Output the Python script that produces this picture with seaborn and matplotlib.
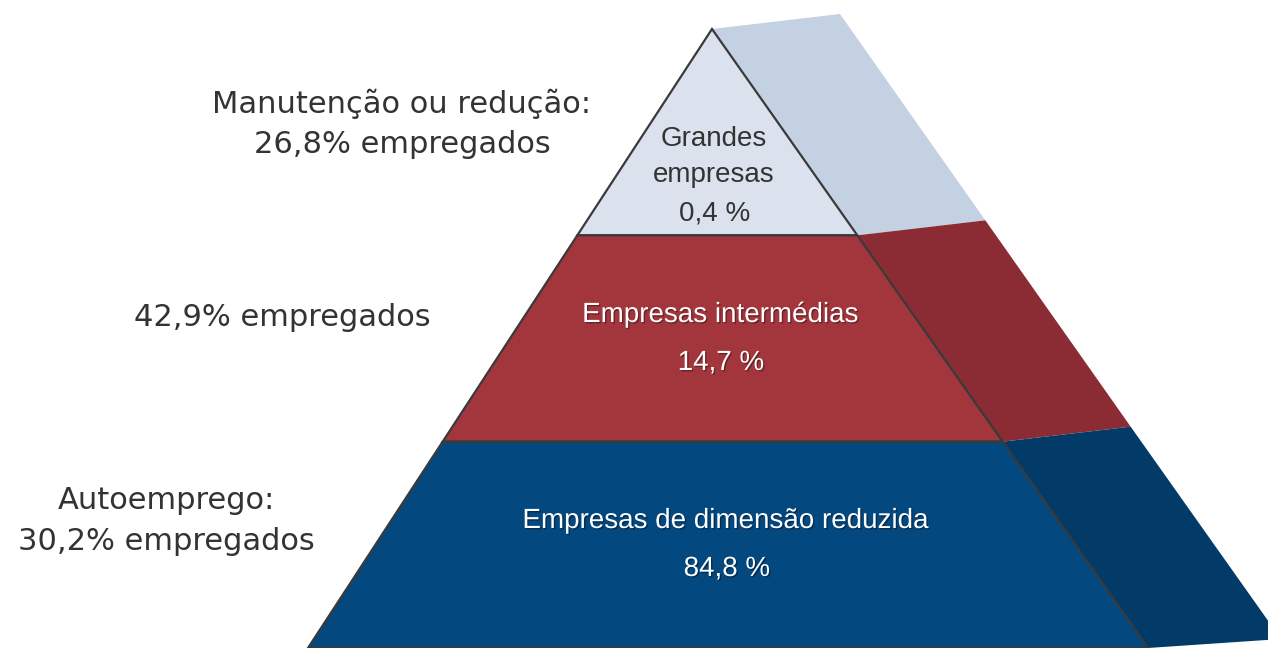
import matplotlib
matplotlib.use("Agg")
import matplotlib.pyplot as plt
import matplotlib.patheffects as pe
import seaborn as sns
import numpy as np

# pyramid levels, top to bottom
level_names = ["Grandes\nempresas", "Empresas intermédias", "Empresas de dimensão reduzida"]
firm_share = [0.4, 14.7, 84.8]
employment_labels = ["Manutenção ou redução:", "", "Autoemprego:"]
employment_share = [26.8, 42.9, 30.2]

front_colors = ["#dbe2ee", "#a2363c", "#03487f"]
side_colors = ["#c4d1e3", "#8b2b34", "#033b68"]
text_colors = ["#333333", "white", "white"]


def pt(v):
    return f"{v:.1f}".replace(".", ",")


sns.set_theme(style="white")
plt.rcParams["font.family"] = ["DejaVu Sans"]

fig = plt.figure(figsize=(12.68, 6.48), dpi=100)
ax = fig.add_axes([0, 0, 1, 1])
ax.set_xlim(0, 1268)
ax.set_ylim(648, 0)
ax.axis("off")

# pyramid layout (pixel-like coords, y down)
apex = np.array([712.0, 29.0])
base_l = np.array([308.0, 648.0])
base_r = np.array([1148.0, 648.0])
depth = np.array([128.0, -15.0])
n = len(level_names)


def edge(p0, p1, t):
    return p0 + (p1 - p0) * t


for i in range(n):
    t0, t1 = i / n, (i + 1) / n
    r0, r1 = edge(apex, base_r, t0), edge(apex, base_r, t1)
    d1 = depth if i < n - 1 else np.array([133.0, -9.0])
    # side face
    side = np.array([r0, r0 + depth, r1 + d1, r1])
    ax.fill(side[:, 0], side[:, 1], color=side_colors[i], lw=0, zorder=1)

for i in range(n):
    t0, t1 = i / n, (i + 1) / n
    l0, l1 = edge(apex, base_l, t0), edge(apex, base_l, t1)
    r0, r1 = edge(apex, base_r, t0), edge(apex, base_r, t1)
    front = np.array([l0, r0, r1, l1])
    ax.fill(front[:, 0], front[:, 1], facecolor=front_colors[i],
            edgecolor="#3a3a3a", lw=1.6, zorder=2)

shadow = [pe.withSimplePatchShadow(offset=(1, -1), shadow_rgbFace="black", alpha=0.35)]

# labels inside the pyramid
name_pos = [(714, 157), (720, 315), (725, 521)]
pct_pos = [(715, 213), (721, 363), (727, 569)]
for i in range(n):
    eff = shadow if text_colors[i] == "white" else None
    ax.text(*name_pos[i], level_names[i], ha="center", va="center",
            fontsize=20, color=text_colors[i], family="Liberation Sans",
            linespacing=1.45, path_effects=eff, zorder=3)
    ax.text(*pct_pos[i], pt(firm_share[i]) + " %", ha="center", va="center",
            fontsize=20, color=text_colors[i], family="Liberation Sans",
            path_effects=eff, zorder=3)

# employment labels on the left
emp_pos = [(402, 124), (282, 317), (166, 521)]
for i in range(n):
    txt = pt(employment_share[i]) + "% empregados"
    if employment_labels[i]:
        txt = employment_labels[i] + "\n" + txt
    ax.text(*emp_pos[i], txt, ha="center", va="center", fontsize=22,
            color="#333333", linespacing=1.5, zorder=3)

fig.savefig("out.png", dpi=100)
